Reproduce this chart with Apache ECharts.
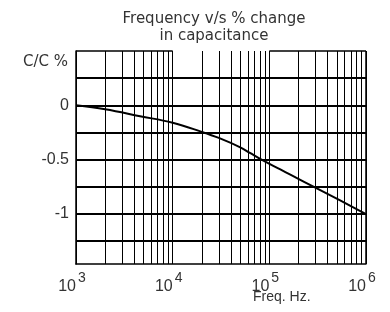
<!DOCTYPE html>
<html>
<head>
<meta charset="utf-8">
<script src="https://cdn.jsdelivr.net/npm/echarts@6/dist/echarts.min.js"></script>
<style>
  html, body { margin: 0; padding: 0; background: #fff; }
  #chart { width: 390px; height: 312px; }
</style>
</head>
<body>
<div id="chart"></div>
<script>
// curve: frequency (Hz) vs % change in capacitance
const freqs = [1000, 2000, 4600, 10000, 20000, 30000, 50000, 63000, 83000, 130000, 165000, 310000, 540000, 1000000]
const changePct = [0, -0.037, -0.1, -0.16, -0.244, -0.30, -0.386, -0.438, -0.50, -0.59, -0.638, -0.765, -0.875, -1.0]

// axis ticks
const xTicks = [1000, 10000, 100000, 1000000]
const xTickExp = ['3', '4', '5', '6']
const yLabels = [0, -0.5, -1]
const yGrid = [0.25, 0, -0.25, -0.5, -0.75, -1, -1.25]
const minorSteps = [2, 3, 4, 5, 6, 7, 8, 9]
const yMin = -1.46
const yMax = 0.5

const chart = echarts.init(document.getElementById('chart'))

// minor log gridlines (2..9 within every decade)
let vLines = []
xTicks.slice(0, 3).forEach(d => {
  minorSteps.forEach(k => vLines.push({ xAxis: d * k }))
})
let hLines = yGrid.map(v => ({ yAxis: v }))
// top border, the original has a gap between 10^4 and 10^5
let topLines = [
  [{ coord: [xTicks[0], yMax] }, { coord: [xTicks[1], yMax] }],
  [{ coord: [xTicks[2], yMax] }, { coord: [xTicks[3], yMax] }]
]

const textColor = '#333'

const option = {
  animation: false,
  title: [
    {
      text: 'Frequency v/s % change\nin capacitance',
      left: 214,
      top: 11,
      textAlign: 'center',
      padding: 0,
      textStyle: {
        fontFamily: 'DejaVu Sans',
        fontSize: 15,
        fontWeight: 'normal',
        color: textColor,
        lineHeight: 17
      }
    },
    {
      text: 'C/C %',
      right: 322,
      top: 55,
      padding: 0,
      textStyle: { fontFamily: 'DejaVu Sans', fontSize: 15, fontWeight: 'normal', color: textColor }
    },
    {
      text: 'Freq. Hz.',
      left: 253,
      top: 290,
      padding: 0,
      textStyle: { fontFamily: 'Liberation Sans', fontSize: 14, fontWeight: 'normal', color: textColor }
    }
  ],
  grid: {
    left: 76,
    right: 24,
    top: 51,
    bottom: 48,
    containLabel: false
  },
  xAxis: {
    type: 'log',
    logBase: 10,
    min: 1000,
    max: 1000000,
    axisLine: { onZero: false, lineStyle: { color: '#000', width: 1.5 } },
    axisTick: { show: false },
    splitLine: { show: true, lineStyle: { color: '#000', width: 1 } },
    axisLabel: {
      margin: 7,
      padding: [0, 8, 0, 0],
      formatter: function (v) {
        let i = xTicks.findIndex(t => Math.abs(t - v) / t < 1e-6)
        return '{b|10}{s|' + (i >= 0 ? xTickExp[i] : '') + '}'
      },
      rich: {
        b: { fontFamily: 'Liberation Sans', fontSize: 16, color: textColor, lineHeight: 24, verticalAlign: 'bottom' },
        s: { fontFamily: 'Liberation Sans', fontSize: 14, color: textColor, lineHeight: 16, verticalAlign: 'top', padding: [0, 0, 0, 2] }
      }
    }
  },
  yAxis: {
    type: 'value',
    min: yMin,
    max: yMax,
    axisLine: { show: true, onZero: false, lineStyle: { color: '#000', width: 1.5 } },
    axisTick: { show: false },
    splitLine: { show: false },
    axisLabel: {
      customValues: yLabels,
      margin: 7,
      fontFamily: 'Liberation Sans',
      fontSize: 16,
      color: textColor
    }
  },
  series: [
    {
      type: 'line',
      data: freqs.map((f, i) => [f, changePct[i]]),
      smooth: 0.4,
      showSymbol: false,
      lineStyle: { color: '#000', width: 2 },
      z: 5,
      markLine: {
        silent: true,
        symbol: 'none',
        label: { show: false },
        lineStyle: { color: '#000', width: 1, type: 'solid' },
        data: vLines
      }
    },
    {
      type: 'line',
      data: [],
      markLine: {
        silent: true,
        symbol: 'none',
        label: { show: false },
        lineStyle: { color: '#000', width: 2, type: 'solid' },
        data: hLines
      }
    },
    {
      type: 'line',
      data: [],
      markLine: {
        silent: true,
        symbol: 'none',
        label: { show: false },
        lineStyle: { color: '#000', width: 1.5, type: 'solid' },
        data: topLines.concat([{ xAxis: xTicks[3] }])
      }
    }
  ]
}
chart.setOption(option)
</script>
</body>
</html>
